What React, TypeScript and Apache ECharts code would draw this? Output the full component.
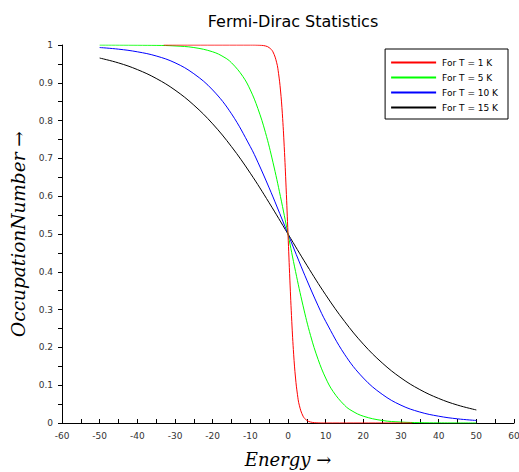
import React, { useEffect, useRef } from "react";
import * as echarts from "echarts";

const seriesNames = ["For T = 1 K", "For T = 5 K", "For T = 10 K", "For T = 15 K"];
const seriesColors = ["#ff0000", "#00ff00", "#0000ff", "#000000"];

// T = 1 K
const energyT1 = [-33, -10, -8, -6, -5, -4, -3, -2.5, -2, -1.5, -1, -0.5, 0, 0.5, 1, 1.5, 2, 2.5, 3, 4, 5, 6, 8, 10, 33];
const occT1 = [1, 1, 0.9997, 0.9975, 0.993, 0.982, 0.953, 0.924, 0.881, 0.818, 0.731, 0.622, 0.5, 0.378, 0.269, 0.182, 0.119, 0.076, 0.047, 0.018, 0.007, 0.0025, 0.0003, 0, 0];

// T = 5 K
const energyT5 = [-50, -35, -30, -25, -20, -17, -15, -12, -10, -8, -6, -4, -2, 0, 2, 4, 6, 8, 10, 12, 15, 17, 20, 25, 30, 35, 40, 50];
const occT5 = [1, 0.9991, 0.9975, 0.9933, 0.982, 0.968, 0.953, 0.917, 0.881, 0.832, 0.769, 0.69, 0.599, 0.5, 0.401, 0.31, 0.231, 0.168, 0.119, 0.083, 0.047, 0.032, 0.018, 0.0067, 0.0025, 0.0009, 0.0003, 0];

// T = 10 K
const energyT10 = [-50, -45, -40, -35, -30, -25, -20, -15, -10, -8, -5, -3, 0, 3, 5, 8, 10, 15, 20, 25, 30, 35, 40, 45, 50];
const occT10 = [0.9933, 0.989, 0.982, 0.971, 0.953, 0.924, 0.881, 0.818, 0.731, 0.69, 0.622, 0.574, 0.5, 0.426, 0.378, 0.31, 0.269, 0.182, 0.119, 0.076, 0.047, 0.029, 0.018, 0.011, 0.0067];

// T = 15 K
const energyT15 = [-50, -45, -40, -35, -30, -25, -20, -15, -10, -5, 0, 5, 10, 15, 20, 25, 30, 35, 40, 45, 50];
const occT15 = [0.9655, 0.9526, 0.935, 0.9116, 0.8808, 0.841, 0.7914, 0.731, 0.6608, 0.5826, 0.5, 0.4174, 0.3392, 0.269, 0.2086, 0.159, 0.1192, 0.0884, 0.065, 0.0474, 0.0345];

const xTicks = [-60, -50, -40, -30, -20, -10, 0, 10, 20, 30, 40, 50, 60];
const yTicks = [0, 0.1, 0.2, 0.3, 0.4, 0.5, 0.6, 0.7, 0.8, 0.9, 1];

const energies = [energyT1, energyT5, energyT10, energyT15];
const occupations = [occT1, occT5, occT10, occT15];

export default function App() {
  const ref = useRef<HTMLDivElement>(null);
  useEffect(() => {
    if (!ref.current) return;
    const chart = echarts.init(ref.current, undefined, { renderer: "svg" });
    const labelColor = "#333";
    const series = [3, 2, 1, 0].map((i) => ({
      name: seriesNames[i],
      type: "line",
      data: energies[i].map((e, k) => [e, occupations[i][k]]),
      symbol: "none",
      smooth: 0.4,
      lineStyle: { color: seriesColors[i], width: 1 },
      itemStyle: { color: seriesColors[i] },
      z: 10 - i,
    }));
    chart.setOption({
      animation: false,
      title: {
        text: "Fermi-Dirac Statistics",
        left: 288,
        textAlign: "center",
        top: 8,
        textStyle: { fontFamily: "DejaVu Sans", fontSize: 16, fontWeight: "normal", color: "#000" },
      },
      legend: {
        data: seriesNames,
        orient: "vertical",
        right: 11,
        top: 49,
        align: "left",
        itemWidth: 45,
        itemHeight: 10,
        itemGap: 6,
        padding: [9, 10, 7, 5],
        borderColor: "#000",
        borderWidth: 1,
        backgroundColor: "#fff",
        itemStyle: { opacity: 0, borderWidth: 0 },
        textStyle: { fontFamily: "DejaVu Sans", fontSize: 9, color: "#000", padding: [0, 0, 0, 1] },
      },
      grid: { left: 62, right: 5, top: 45, bottom: 49, containLabel: false, outerBoundsMode: "none" },
      xAxis: {
        type: "value",
        min: xTicks[0],
        max: xTicks[xTicks.length - 1],
        interval: 10,
        name: "Energy \u2192",
        nameLocation: "middle",
        nameGap: 27,
        nameTextStyle: { fontFamily: "DejaVu Serif", fontStyle: "italic", fontSize: 18, color: "#000" },
        axisLine: { onZero: false, lineStyle: { color: "#000", width: 1 } },
        axisTick: { inside: true, length: 4, lineStyle: { color: "#000" } },
        minorTick: { show: true, splitNumber: 2, length: 4, lineStyle: { color: "#000" } },
        axisLabel: { margin: 8, fontFamily: "DejaVu Sans", fontSize: 9, color: labelColor },
        splitLine: { show: false },
      },
      yAxis: {
        type: "value",
        min: yTicks[0],
        max: yTicks[yTicks.length - 1],
        interval: 0.1,
        name: "OccupationNumber \u2192",
        nameLocation: "middle",
        nameGap: 33,
        nameRotate: 90,
        nameTextStyle: { fontFamily: "DejaVu Serif", fontStyle: "italic", fontSize: 18.5, color: "#000" },
        axisLine: { show: true, onZero: false, lineStyle: { color: "#000", width: 1 } },
        axisTick: { show: true, inside: false, length: 4, lineStyle: { color: "#000" } },
        minorTick: { show: true, splitNumber: 2, length: 4, lineStyle: { color: "#000" } },
        axisLabel: { margin: 9, fontFamily: "DejaVu Sans", fontSize: 9, color: labelColor },
        splitLine: { show: false },
      },
      series,
    });
    return () => chart.dispose();
  }, []);
  return (
    <div
      ref={ref}
      style={{ position: "absolute", left: 0, top: 0, width: 519, height: 472, background: "#fff" }}
    />
  );
}
